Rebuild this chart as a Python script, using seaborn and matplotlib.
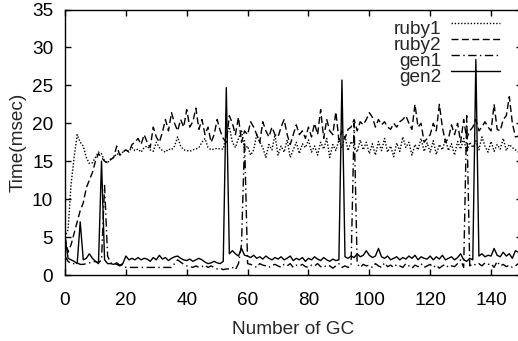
import numpy as np
import pandas as pd
import matplotlib
matplotlib.use("Agg")
import matplotlib.pyplot as plt
from matplotlib.legend_handler import HandlerLine2D
import seaborn as sns

gc = list(range(150))

ruby1 = [5.0, 6.0, 12.0, 15.5, 18.5, 17.5, 17.0, 15.5, 14.7, 14.8,
         15.5, 16.2, 16.0, 15.0, 14.8, 15.3, 15.5, 16.0, 15.8, 16.2,
         16.5, 16.3, 16.8, 16.4, 16.6, 16.2, 16.8, 17.0, 16.5, 16.3,
         17.5, 16.8, 16.4, 16.2, 16.6, 16.5, 17.0, 18.2, 17.0, 16.5,
         16.4, 16.3, 16.5, 16.6, 16.8, 17.5, 18.0, 16.8, 16.5, 16.6,
         16.7, 16.6, 16.6, 18.5, 19.5, 17.5, 16.8, 18.0, 19.0, 16.5,
         17.0, 15.8, 16.5, 18.5, 17.5, 16.8, 15.5, 17.2, 16.5, 18.5,
         15.8, 17.0, 16.2, 17.8, 15.5, 16.5, 17.5, 16.0, 17.3, 16.8,
         17.8, 16.2, 17.0, 15.8, 17.5, 16.6, 18.0, 15.5, 17.2, 16.4,
         17.8, 16.8, 18.3, 16.4, 17.6, 17.0, 16.2, 17.8, 16.5, 17.5,
         16.0, 17.3, 15.8, 17.6, 16.4, 18.0, 16.2, 17.0, 15.6, 17.4,
         16.3, 18.2, 16.8, 17.5, 15.8, 17.2, 16.5, 18.0, 16.3, 17.4,
         16.2, 17.7, 15.9, 17.2, 16.5, 17.9, 16.4, 17.3, 15.8, 17.6,
         16.6, 18.0, 16.2, 17.5, 16.8, 17.7, 16.5, 18.2, 17.0, 16.2,
         17.6, 16.3, 17.2, 16.6, 18.0, 16.4, 17.2, 16.8, 16.5, 16.2]

ruby2 = [5.0, 3.0, 4.0, 5.5, 7.0, 8.5, 9.5, 11.5, 12.5, 13.5,
         15.0, 16.0, 15.5, 15.0, 14.8, 15.2, 15.5, 17.0, 15.8, 16.2,
         16.5, 16.2, 17.2, 17.5, 18.0, 17.2, 18.5, 17.5, 16.8, 19.5,
         18.2, 17.5, 18.8, 20.5, 19.0, 21.4, 20.0, 19.0, 20.5, 19.5,
         21.8, 19.5, 20.2, 22.0, 19.2, 20.5, 18.5, 19.5, 17.5, 18.5,
         20.5, 19.0, 18.0, 17.5, 21.0, 20.0, 18.5, 20.8, 17.5, 19.0,
         18.5, 20.2, 19.5, 18.5, 17.5, 20.2, 19.0, 18.2, 19.5, 18.5,
         18.2, 19.5, 20.5, 18.5, 17.2, 18.5, 19.8, 18.5, 19.0, 18.0,
         19.5, 18.2, 20.0, 18.5, 21.8, 18.0, 20.5, 19.0, 18.5, 21.5,
         17.8, 19.0, 18.0, 19.2, 19.5, 20.5, 19.0, 20.2, 19.8, 20.5,
         21.4, 20.8, 19.5, 20.5, 19.8, 20.2, 19.5, 19.2, 20.0, 19.5,
         20.2, 20.5, 21.0, 20.0, 19.2, 22.5, 19.5, 20.0, 17.5, 18.0,
         18.5, 20.0, 19.0, 22.5, 19.5, 17.5, 18.0, 19.8, 18.5, 20.0,
         17.5, 20.5, 18.0, 19.0, 19.5, 20.5, 19.0, 19.5, 20.2, 19.5,
         19.0, 22.5, 19.2, 19.0, 20.5, 21.0, 23.5, 20.0, 18.2, 18.3]

gen1 = [2.5, 1.8, 1.5, 1.5, 1.6, 1.4, 1.4, 1.5, 1.6, 1.7,
        1.8, 1.6, 2.0, 11.8, 2.5, 1.6, 1.5, 1.4, 1.2, 1.4,
        1.0, 1.0, 1.0, 1.0, 1.0, 1.0, 1.0, 1.0, 1.0, 1.0,
        1.0, 1.0, 1.0, 1.0, 1.0, 1.0, 1.5, 2.0, 1.7, 1.4,
        1.2, 1.1, 1.0, 1.2, 1.0, 1.1, 1.3, 1.0, 1.2, 1.0,
        0.8, 0.9, 0.7, 0.8, 0.8, 1.0, 0.7, 1.5, 4.0, 17.8,
        1.5, 1.4, 1.2, 1.0, 1.5, 1.3, 1.2, 1.0, 1.3, 1.4,
        1.2, 1.0, 1.4, 1.2, 1.5, 1.0, 1.3, 1.2, 1.4, 1.1,
        1.0, 1.3, 1.2, 1.5, 1.1, 1.0, 1.3, 1.2, 0.9, 1.2,
        1.5, 1.0, 1.2, 1.0, 1.2, 20.0, 1.5, 1.0, 1.4, 1.2,
        1.3, 1.0, 1.5, 1.2, 1.0, 1.6, 1.1, 1.3, 1.0, 1.4,
        1.2, 1.0, 1.5, 1.2, 0.9, 1.3, 1.1, 1.5, 1.0, 1.2,
        1.4, 1.0, 1.3, 0.9, 1.2, 1.4, 1.0, 1.2, 1.1, 1.5,
        2.0, 1.0, 21.0, 1.2, 1.5, 1.3, 1.5, 1.2, 1.6, 1.4,
        1.5, 1.0, 1.8, 1.2, 1.4, 1.1, 1.3, 1.0, 1.2, 1.5]

gen2 = [5.0, 2.2, 2.0, 1.8, 1.5, 7.0, 2.0, 2.2, 2.8, 2.2,
        1.8, 1.5, 15.0, 2.0, 1.5, 1.5, 1.4, 1.6, 1.3, 1.5,
        2.5, 2.0, 2.2, 2.0, 2.3, 2.0, 2.2, 2.1, 1.8, 2.3,
        2.0, 2.6, 2.1, 2.3, 1.9, 2.2, 2.4, 2.5, 2.2, 2.0,
        1.9, 2.1, 1.8, 2.0, 2.2, 2.0, 1.7, 1.5, 1.6, 1.8,
        1.6, 1.5, 1.8, 24.7, 2.8, 3.2, 2.8, 2.5, 3.5, 2.6,
        2.5, 2.3, 2.6, 2.2, 2.4, 2.1, 2.5, 2.2, 2.0, 2.3,
        2.1, 2.4, 2.0, 2.2, 2.5, 1.9, 2.2, 2.0, 2.3, 1.8,
        2.2, 2.0, 2.4, 2.1, 1.9, 2.3, 2.0, 1.8, 2.1, 1.9,
        2.0, 25.7, 2.4, 2.2, 2.5, 2.3, 2.8, 2.4, 2.6, 3.2,
        2.6, 2.3, 2.5, 3.5, 2.4, 2.2, 2.5, 2.0, 2.2, 2.4,
        2.0, 2.3, 2.1, 2.5, 2.2, 2.6, 2.0, 2.4, 2.2, 2.1,
        2.5, 2.0, 2.4, 2.1, 2.6, 2.0, 2.2, 2.4, 2.0, 2.3,
        2.8, 2.0, 1.8, 2.2, 2.0, 28.4, 2.5, 2.8, 2.4, 2.6,
        2.5, 3.5, 2.6, 2.4, 3.0, 2.5, 2.8, 2.2, 3.2, 3.0]

series_names = ["ruby1", "ruby2", "gen1", "gen2"]
x_ticks = [0, 20, 40, 60, 80, 100, 120, 140]
y_ticks = [0, 5, 10, 15, 20, 25, 30, 35]

df = pd.concat([
    pd.DataFrame({"gc": gc, "time": vals, "series": name})
    for name, vals in zip(series_names, [ruby1, ruby2, gen1, gen2])
], ignore_index=True)

sns.set_style("ticks")
plt.rcParams["font.family"] = ["Liberation Sans", "DejaVu Sans"]
FS = 13.7

fig = plt.figure(figsize=(5.18, 3.41), dpi=100)
ax = fig.add_axes([65 / 518, 66 / 341, 456.5 / 518, 265.5 / 341])

dash_map = {"ruby1": (1, 1.3), "ruby2": (5, 2.5), "gen1": (6, 2.5, 1, 2.5), "gen2": ""}
sns.lineplot(data=df, x="gc", y="time", style="series", style_order=series_names,
             dashes=dash_map, color="black", linewidth=1.0, ax=ax, legend=True)

ax.set_xlim(0, 150)
ax.set_ylim(0, 35)
ax.set_xticks(x_ticks)
ax.set_yticks(y_ticks)
ax.tick_params(direction="in", top=True, right=True, length=4, width=1,
               labelsize=FS, colors="black")
ax.tick_params(axis="x", pad=12.5)
ax.tick_params(axis="y", pad=8.5)
for s in ax.spines.values():
    s.set_visible(True)
    s.set_color("black")
    s.set_linewidth(1.0)
ax.set_xlabel("Number of GC", fontsize=FS, labelpad=8.5)
ax.set_ylabel("Time(msec)", fontsize=FS, labelpad=4)


class RaisedLine(HandlerLine2D):
    def create_artists(self, legend, orig_handle, xdescent, ydescent,
                       width, height, fontsize, trans):
        arts = super().create_artists(legend, orig_handle, xdescent, ydescent,
                                      width, height, fontsize, trans)
        for a in arts:
            a.set_ydata(np.asarray(a.get_ydata()) + 3.0)
        return arts


handles, labels = ax.get_legend_handles_labels()
ax.legend(handles, labels, loc="upper right", bbox_to_anchor=(0.953, 0.958),
          frameon=False, markerfirst=False, fontsize=FS, handlelength=2.6,
          handletextpad=0.5, labelspacing=-0.07, borderpad=0, borderaxespad=0,
          handler_map={h: RaisedLine() for h in handles})

fig.savefig("out.png", dpi=100)
